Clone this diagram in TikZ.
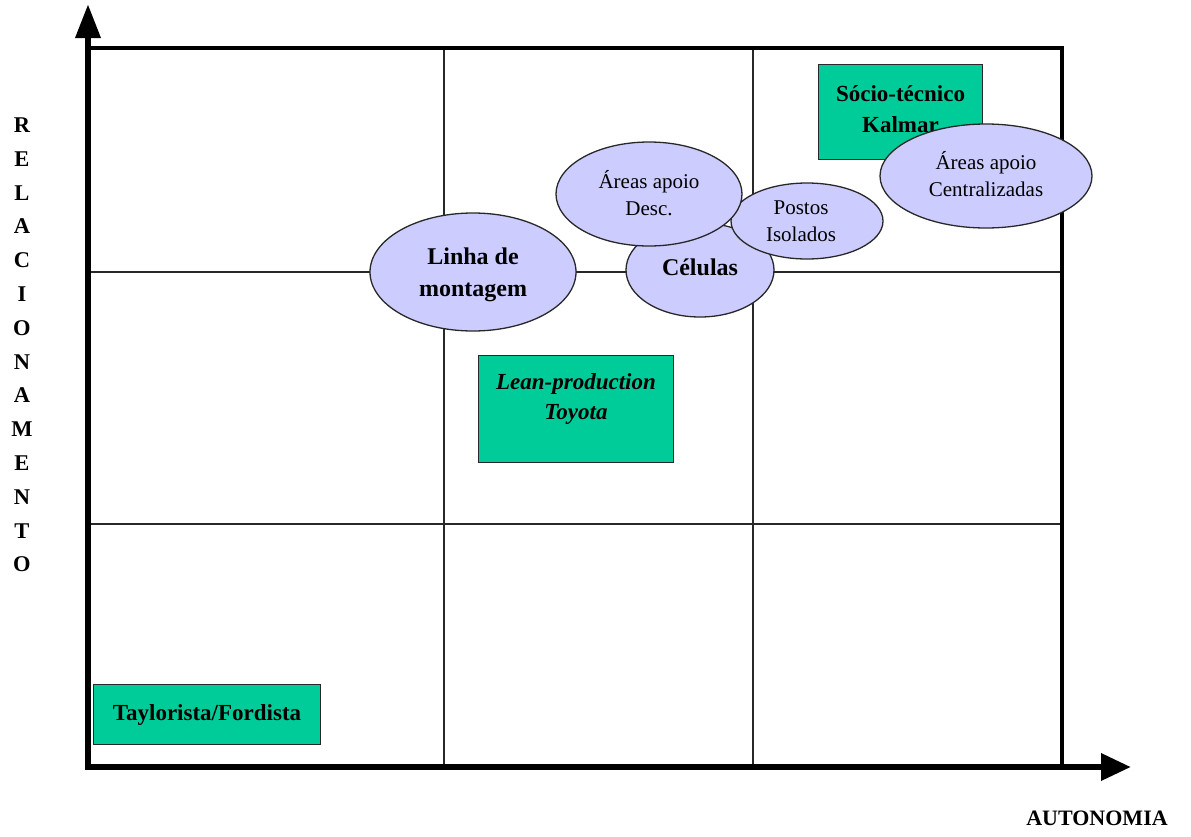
\documentclass[tikz,border=0pt]{standalone}
\usepackage{fontspec}
\setmainfont{Liberation Serif}
\usetikzlibrary{arrows.meta,shapes.geometric}

\definecolor{boxgreen}{RGB}{0,204,153}
\definecolor{ovalfill}{RGB}{204,204,255}
\definecolor{gridgray}{RGB}{40,40,40}

\tikzset{
  axisline/.style={line width=6.5pt, black},
  frameline/.style={line width=3.5pt, black},
  gridline/.style={line width=1.3pt, gridgray},
  greenbox/.style={draw=gridgray, line width=1pt, fill=boxgreen, inner sep=0pt},
  oval/.style={ellipse, draw=gridgray, line width=1.3pt, fill=ovalfill, inner sep=0pt, align=center},
  bigtext/.style={font=\fontsize{24}{32}\selectfont\bfseries, align=center},
  smalltext/.style={font=\fontsize{21}{27}\selectfont, align=center},
  boxtext/.style={font=\fontsize{23}{30.5}\selectfont\bfseries, align=center},
  axislabel/.style={font=\fontsize{22.5}{33.8}\selectfont\bfseries, align=center, inner sep=0pt},
}

\begin{document}
\begin{tikzpicture}[x=1pt, y=-1pt]
  \useasboundingbox (0,0) rectangle (1191,836);

  % corner points of the chart area
  \coordinate (origin) at (88,767);
  \coordinate (ytip) at (88,4);
  \coordinate (xtip) at (1131,767);
  \coordinate (tl) at (88,48);
  \coordinate (tr) at (1062,48);
  \coordinate (br) at (1062,767);

  % inner grid
  \coordinate (v1t) at (444,48);  \coordinate (v1b) at (444,767);
  \coordinate (v2t) at (753,48);  \coordinate (v2b) at (753,767);
  \coordinate (h1l) at (88,272);  \coordinate (h1r) at (1062,272);
  \coordinate (h2l) at (88,524);  \coordinate (h2r) at (1062,524);
  \draw[gridline] (v1t) -- (v1b);
  \draw[gridline] (v2t) -- (v2b);
  \draw[gridline] (h1l) -- (h1r);
  \draw[gridline] (h2l) -- (h2r);

  % outer frame
  \draw[frameline] (tl) -- (tr) -- (br);

  % axes
  \draw[axisline, -{Triangle[length=34pt, width=24pt]}] ([yshift=-3]origin) -- (ytip);
  \draw[axisline, -{Triangle[length=30pt, width=26pt]}] ([xshift=-3]origin) -- (xtip);

  % axis labels
  \node[axislabel] (ylabel) at (22,345) {R\\E\\L\\A\\C\\I\\O\\N\\A\\M\\E\\N\\T\\O};
  \node[font=\fontsize{22}{26}\selectfont\bfseries] (xlabel) at (1097,818) {AUTONOMIA};

  % production models (boxes)
  \node[greenbox, minimum width=227pt, minimum height=60pt, anchor=north west] (taylor) at (93,684) {};
  \node[boxtext] (taylortxt) at (taylor.center) {Taylorista/Fordista};

  \node[greenbox, minimum width=195pt, minimum height=107pt, anchor=north west] (lean) at (478,355) {};
  \node[boxtext, font=\fontsize{23}{30}\selectfont\bfseries\itshape] (leantxt) at ([yshift=-44]lean.north) {Lean-production\\Toyota};

  \node[greenbox, minimum width=164pt, minimum height=95pt, anchor=north west] (kalmar) at (818,64) {};
  \node[boxtext] (kalmartxt) at ([yshift=-45]kalmar.north) {Sócio-técnico\\Kalmar};

  % work organisation forms (ovals)
  \node[oval, minimum width=206pt, minimum height=118pt] (linha) at (473,272) {};
  \node[bigtext] (linhatxt) at ([yshift=-3]linha.center) {Linha de\\montagem};

  \node[oval, minimum width=148pt, minimum height=94pt] (celulas) at (700,270) {};
  \node[bigtext] (celulastxt) at ([yshift=3]celulas.center) {Células};

  \node[oval, minimum width=152pt, minimum height=76pt] (postos) at (807,221) {};
  \node[smalltext] (postostxt) at ([xshift=-6]postos.center) {Postos\\Isolados};

  \node[oval, minimum width=186pt, minimum height=104pt] (desc) at (649,194) {};
  \node[smalltext] (desctxt) at ([yshift=1]desc.center) {Áreas apoio\\Desc.};

  \node[oval, minimum width=212pt, minimum height=104pt] (central) at (986,176) {};
  \node[smalltext] (centraltxt) at ([yshift=2]central.center) {Áreas apoio\\Centralizadas};
\end{tikzpicture}
\end{document}
